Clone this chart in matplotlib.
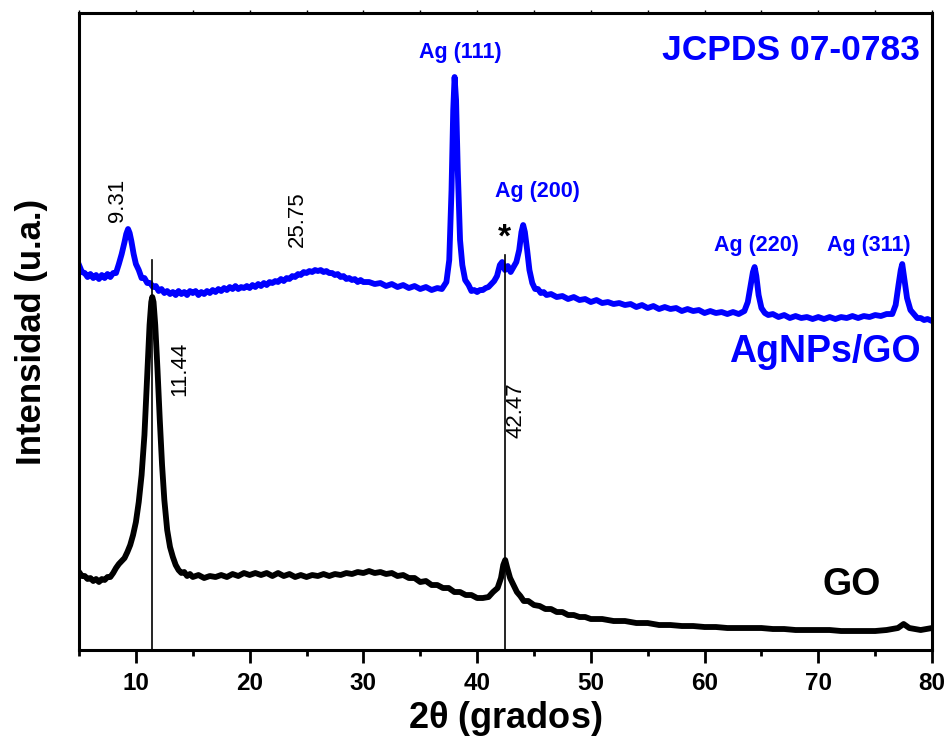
import matplotlib
matplotlib.use("Agg")
import matplotlib.pyplot as plt
import matplotlib.ticker as ticker

plt.rcParams['font.family'] = ['Liberation Sans', 'DejaVu Sans']

# AgNPs/GO (azul), intensidad en u.a.
ag_x = [5.0, 5.25, 5.5, 5.75, 6.0, 6.25, 6.5, 6.75, 7.0, 7.25, 7.5, 7.75, 8.0, 8.25, 8.5,
        8.75, 9.0, 9.15, 9.31, 9.45, 9.6, 9.8, 10.0, 10.25,
        10.5, 10.75, 11.0, 11.25, 11.5, 11.75, 12.0, 12.25, 12.5, 12.75, 13.0, 13.25, 13.5, 13.75,
        14.0, 14.25, 14.5, 14.75, 15.0, 15.25, 15.5, 15.75, 16.0, 16.25, 16.5, 16.75, 17.0, 17.25,
        17.5, 17.75, 18.0, 18.25, 18.5, 18.75, 19.0, 19.25, 19.5, 19.75, 20.0, 20.25, 20.5, 20.75,
        21.0, 21.25, 21.5, 21.75, 22.0, 22.25, 22.5, 22.75, 23.0, 23.25, 23.5, 23.75, 24.0, 24.25,
        24.5, 24.75, 25.0, 25.25, 25.5, 25.75, 26.0, 26.25, 26.5, 26.75, 27.0, 27.25, 27.5, 27.75,
        28.0, 28.25, 28.5, 28.75, 29.0, 29.25, 29.5, 29.75, 30.0, 30.5, 31.0, 31.5, 32.0, 32.5,
        33.0, 33.5, 34.0, 34.5, 35.0, 35.5, 36.0, 36.5, 36.9, 37.3, 37.55, 37.75, 37.9, 38.02,
        38.15, 38.3, 38.5, 38.7, 38.95, 39.25, 39.5, 39.75, 40.0, 40.25, 40.5, 40.75, 41.0, 41.25,
        41.5, 41.75, 42.0, 42.2, 42.45, 42.7, 42.95, 43.2, 43.45, 43.7, 43.9, 44.05, 44.2, 44.4,
        44.6, 44.85, 45.1, 45.35, 45.6, 45.85, 46.1, 46.5, 47.0, 47.5, 48.0, 48.5, 49.0, 49.5,
        50.0, 50.5, 51.0, 51.5, 52.0, 52.5, 53.0, 53.5, 54.0, 54.5, 55.0, 55.5, 56.0, 56.5, 57.0,
        57.5, 58.0, 58.5, 59.0, 59.5, 60.0, 60.5, 61.0, 61.5, 62.0, 62.5, 63.0, 63.5, 63.8, 64.05,
        64.25, 64.4, 64.55, 64.75, 65.0, 65.3, 65.6, 66.0, 66.5, 67.0, 67.5, 68.0, 68.5, 69.0,
        69.5, 70.0, 70.5, 71.0, 71.5, 72.0, 72.5, 73.0, 73.5, 74.0, 74.5, 75.0, 75.5, 76.0, 76.5,
        76.8, 77.05, 77.25, 77.38, 77.55, 77.8, 78.1, 78.4, 78.7, 79.0, 79.3, 79.6, 80.0]
ag_y = [385, 378, 377, 373, 376, 372, 375, 371, 375, 372, 376, 373, 377, 377, 386,
        396, 408, 416, 421, 417, 409, 396, 386, 380,
        372, 372, 367, 367, 363, 364, 359, 361, 357, 359, 356, 358, 355, 359,
        356, 358, 355, 359, 357, 359, 355, 358, 356, 359, 357, 360, 358, 361,
        359, 362, 360, 363, 361, 364, 361, 363, 362, 364, 362, 365, 363, 366,
        364, 367, 365, 368, 367, 369, 368, 371, 369, 372, 371, 374, 373, 376,
        375, 378, 377, 379, 378, 380, 379, 380, 378, 379, 377, 377, 375, 376,
        373, 374, 371, 372, 370, 371, 368, 370, 368, 368, 366, 367, 364, 366,
        363, 365, 362, 364, 361, 363, 360, 362, 361, 368, 390, 460, 540, 573,
        550, 480, 410, 385, 370, 365, 359, 360, 358, 360, 360, 362, 363, 366,
        369, 374, 385, 388, 380, 384, 378, 383, 388, 400, 418, 425, 418, 400,
        380, 367, 361, 361, 357, 358, 355, 356, 353, 354, 351, 353, 350, 351,
        348, 350, 347, 348, 346, 347, 345, 346, 343, 345, 342, 344, 341, 343, 341,
        342, 339, 341, 339, 340, 337, 339, 337, 338, 336, 338, 336, 339, 348, 365,
        378, 383, 374, 355, 342, 337, 335, 336, 333, 335, 332, 334, 332, 333,
        331, 333, 331, 333, 331, 333, 332, 334, 332, 334, 333, 335, 334, 336, 336,
        345, 365, 380, 386, 372, 352, 340, 336, 332, 332, 330, 331, 329]

# GO (negro)
go_x = [5.0, 5.25, 5.5, 5.75, 6.0, 6.25, 6.5, 6.75, 7.0, 7.25, 7.5, 7.75, 8.0, 8.25, 8.5,
        8.75, 9.0, 9.25, 9.5, 9.75, 10.0, 10.25, 10.5, 10.75, 11.0, 11.2, 11.35, 11.44, 11.55,
        11.7, 11.9, 12.1, 12.3, 12.5, 12.75, 13.0, 13.25, 13.5, 13.75, 14.0, 14.25, 14.5, 14.75,
        15.0, 15.5, 16.0, 16.5, 17.0, 17.5, 18.0, 18.5, 19.0, 19.5, 20.0, 20.5, 21.0, 21.5, 22.0,
        22.5, 23.0, 23.5, 24.0, 24.5, 25.0, 25.5, 26.0, 26.5, 27.0, 27.5, 28.0, 28.5, 29.0, 29.5,
        30.0, 30.5, 31.0, 31.5, 32.0, 32.5, 33.0, 33.5, 34.0, 34.5, 35.0, 35.5, 36.0, 36.5, 37.0,
        37.5, 38.0, 38.5, 39.0, 39.5, 40.0, 40.5, 41.0, 41.4, 41.8, 42.1, 42.3, 42.47, 42.65,
        42.9, 43.2, 43.5, 43.8, 44.1, 44.5, 45.0, 45.5, 46.0, 46.5, 47.0, 47.5, 48.0, 48.5, 49.0,
        49.5, 50.0, 51.0, 52.0, 53.0, 54.0, 55.0, 56.0, 57.0, 58.0, 59.0, 60.0, 61.0, 62.0, 63.0,
        64.0, 65.0, 66.0, 67.0, 68.0, 69.0, 70.0, 71.0, 72.0, 73.0, 74.0, 75.0, 76.0, 77.0, 77.5,
        78.0, 79.0, 80.0]
go_y = [78, 74, 74, 71, 72, 69, 71, 68, 71, 70, 73, 73, 77, 82, 86,
        89, 92, 98, 105, 115, 128, 148, 175, 215, 275, 325, 348, 353, 348,
        325, 280, 230, 185, 150, 120, 103, 93, 85, 80, 77, 78, 74, 76,
        73, 75, 72, 74, 73, 75, 73, 76, 74, 77, 75, 77, 75, 77, 74,
        77, 74, 76, 73, 75, 73, 75, 74, 76, 74, 76, 75, 77, 76, 78,
        77, 79, 77, 78, 76, 77, 74, 75, 72, 72, 68, 69, 65, 65, 62,
        62, 58, 58, 55, 55, 52, 52, 53, 58, 62, 72, 85, 90, 82,
        72, 65, 58, 54, 49, 49, 45, 44, 41, 41, 38, 38, 35, 35, 33,
        33, 31, 31, 29, 29, 27, 27, 25, 25, 24, 24, 23, 23, 22, 22,
        22, 22, 21, 21, 20, 20, 20, 20, 19, 19, 19, 19, 20, 22, 26,
        22, 20, 22]

# líneas de referencia
ref_lines = [11.44, 42.47]
ref_tops = [390, 395]

blue = '#0000ff'

fig = plt.figure(figsize=(9.5, 7.45), dpi=100)
ax = fig.add_axes([0.0832, 0.1275, 0.8979, 0.855])

ax.plot(ag_x, ag_y, color=blue, lw=4.2)
ax.plot(go_x, go_y, color='black', lw=4.2)
for xv, top in zip(ref_lines, ref_tops):
    ax.plot([xv, xv], [0, top], color='black', lw=1.2)

# etiquetas de picos
ax.text(8.34, 450, '9.31', rotation=90, ha='center', va='center', fontsize=16)
ax.text(24.17, 431, '25.75', rotation=90, ha='center', va='center', fontsize=16)
ax.text(13.88, 281, '11.44', rotation=90, ha='center', va='center', fontsize=16)
ax.text(43.42, 240, '42.47', rotation=90, ha='center', va='center', fontsize=16)
ax.text(42.37, 412, '*', ha='center', va='center', fontsize=24, fontweight='bold')

ax.text(38.5, 598, 'Ag (111)', ha='center', va='center', fontsize=15.5, fontweight='bold', color=blue)
ax.text(45.27, 459, 'Ag (200)', ha='center', va='center', fontsize=15.5, fontweight='bold', color=blue)
ax.text(64.6, 405, 'Ag (220)', ha='center', va='center', fontsize=15.5, fontweight='bold', color=blue)
ax.text(74.4, 405, 'Ag (311)', ha='center', va='center', fontsize=15.5, fontweight='bold', color=blue)
ax.text(78.95, 600, 'JCPDS 07-0783', ha='right', va='center', fontsize=25.5, fontweight='bold', color=blue)
ax.text(70.6, 298, 'AgNPs/GO', ha='center', va='center', fontsize=27, fontweight='bold', color=blue)
ax.text(72.9, 65, 'GO', ha='center', va='center', fontsize=27, fontweight='bold', color='black')

ax.set_xlim(5, 80)
ax.set_ylim(0, 637)
ax.xaxis.set_major_locator(ticker.MultipleLocator(10))
ax.xaxis.set_minor_locator(ticker.MultipleLocator(5))
ax.tick_params(axis='x', which='major', direction='out', length=9, width=2,
               labelsize=17.5, pad=7)
ax.tick_params(axis='x', which='minor', direction='out', length=4.5, width=2)
ax.set_yticks([])
for lab in ax.get_xticklabels():
    lab.set_fontweight('bold')
for s in ax.spines.values():
    s.set_linewidth(2.2)

# marcas pequeñas arriba
top_ax = ax.secondary_xaxis('top')
top_ax.xaxis.set_major_locator(ticker.MultipleLocator(5))
top_ax.tick_params(direction='out', length=2, width=1, labeltop=False)

ax.set_xlabel(r'2$\mathregular{\theta}$ (grados)', fontsize=26, fontweight='bold', labelpad=3)
ax.set_ylabel('Intensidad (u.a.)', fontsize=25, fontweight='bold', labelpad=22)

fig.savefig('out.png', dpi=100)
